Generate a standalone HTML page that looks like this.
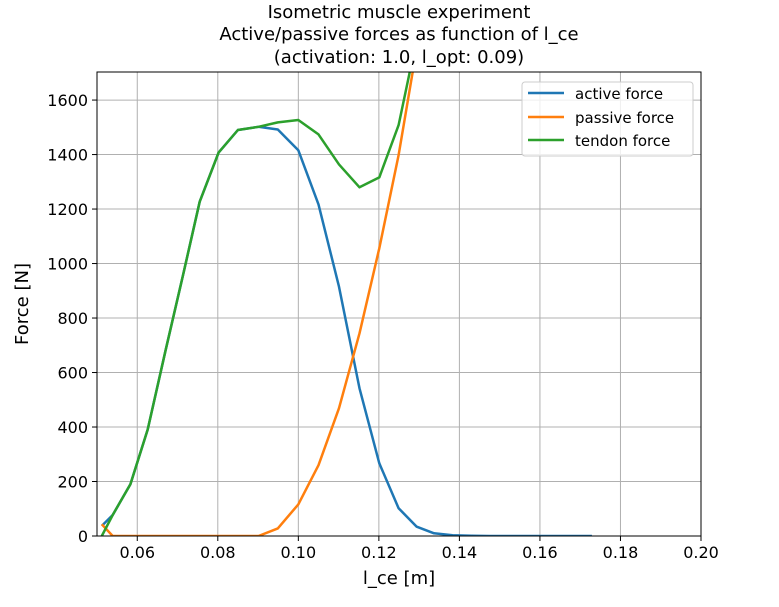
<!DOCTYPE html>
<html><head><meta charset="utf-8"><style>
body{margin:0;background:#fff;}
svg text{font-family:"DejaVu Sans","Liberation Sans",sans-serif;fill:#000;}
</style></head><body>
<svg id="chart" width="779" height="602" xmlns="http://www.w3.org/2000/svg">
<defs><clipPath id="plotclip"><rect x="97" y="72" width="604" height="464"/></clipPath></defs>
<g>
<text x="399" y="18" text-anchor="middle" font-size="18">Isometric muscle experiment</text>
<text x="399" y="40" text-anchor="middle" font-size="18">Active/passive forces as function of l_ce</text>
<text x="399" y="63" text-anchor="middle" font-size="18">(activation: 1.0, l_opt: 0.09)</text>
</g>
<g id="grid"></g>
<g id="series" clip-path="url(#plotclip)"></g>
<rect x="97" y="72" width="604" height="464" fill="none" stroke="#000" stroke-width="1"/>
<g id="axes"></g>
<text x="399" y="584" text-anchor="middle" font-size="18">l_ce [m]</text>
<text x="0" y="0" transform="translate(28,304) rotate(-90)" text-anchor="middle" font-size="18">Force [N]</text>
<g>
<rect x="522" y="82" width="171" height="74" rx="3" fill="#fff" fill-opacity="0.8" stroke="#ccc"/>
<g><line x1="528" y1="93" x2="564" y2="93" stroke="#1f77b4" stroke-width="2.5"/><text x="575" y="99" font-size="15">active force</text></g>
<g><line x1="528" y1="117" x2="564" y2="117" stroke="#ff7f0e" stroke-width="2.5"/><text x="575" y="123" font-size="15">passive force</text></g>
<g><line x1="528" y1="140" x2="564" y2="140" stroke="#2ca02c" stroke-width="2.5"/><text x="575" y="146" font-size="15">tendon force</text></g>
</g>
</svg>
<script>
const lce = [0.0512,0.0539,0.0583,0.0626,0.0670,0.0714,0.0755,0.0802,0.0850,0.0901,0.0949,0.1000,0.1050,0.1101,0.1152,0.1201,0.1249,0.1294,0.1337,0.1383,0.1430,0.1475,0.1520,0.1565,0.1610,0.1655,0.1700,0.1729];
const activeForce = [37,77,190,391,680,960,1227,1407,1490,1502,1492,1416,1217,915,542,267,102,34,10,3,1,0,0,0,0,0,0,0];
const lcePT = [0.0512,0.0539,0.0583,0.0626,0.0670,0.0714,0.0755,0.0802,0.0850,0.0901,0.0949,0.1000,0.1050,0.1101,0.1152,0.1201,0.1249,0.1294,0.1337];
const passiveForce = [43,0,0,0,0,0,0,0,0,0,28,116,260,469,744,1056,1398,1790,2300];
const tendonForce = [0,77,190,391,680,960,1227,1407,1490,1502,1518,1527,1474,1364,1280,1316,1508,1824,2310];
const xTicks = [0.06,0.08,0.10,0.12,0.14,0.16,0.18,0.20];
const xTickLabels = ["0.06","0.08","0.10","0.12","0.14","0.16","0.18","0.20"];
const yTicks = [0,200,400,600,800,1000,1200,1400,1600];
const yTickLabels = ["0","200","400","600","800","1000","1200","1400","1600"];

const X0=97,X1=701,Y0=536,Y1=72, xmin=0.05,xmax=0.20,ymin=0,ymax=1703;
const sx=v=>X0+(v-xmin)/(xmax-xmin)*(X1-X0);
const sy=v=>Y0-(v-ymin)/(ymax-ymin)*(Y0-Y1);
const NS="http://www.w3.org/2000/svg";
const grid=document.getElementById('grid'), axes=document.getElementById('axes'), series=document.getElementById('series');
function mk(tag,attrs,parent){const e=document.createElementNS(NS,tag);for(const k in attrs)e.setAttribute(k,attrs[k]);parent.appendChild(e);return e;}
xTicks.forEach((t,i)=>{
  const x=sx(t);
  const g=mk('line',{x1:x,y1:Y1,x2:x,y2:Y0,stroke:'#b0b0b0','stroke-width':1},grid);
  
  
  const tk=mk('line',{x1:x,y1:Y0,x2:x,y2:Y0+5,stroke:'#000'},axes);
  
  
  const tx=mk('text',{x:x,y:Y0+22,'text-anchor':'middle','font-size':16},axes);
  tx.textContent=xTickLabels[i];
  
  
});
yTicks.forEach((t,i)=>{
  const y=sy(t);
  const g=mk('line',{x1:X0,y1:y,x2:X1,y2:y,stroke:'#b0b0b0','stroke-width':1},grid);
  
  
  const tk=mk('line',{x1:X0-5,y1:y,x2:X0,y2:y,stroke:'#000'},axes);
  
  
  const tx=mk('text',{x:X0-9,y:y+6,'text-anchor':'end','font-size':16},axes);
  tx.textContent=yTickLabels[i];
  
  
});
function line(xs,ys,color,name){
  const d=xs.map((v,i)=>(i?'L':'M')+sx(v).toFixed(1)+','+sy(ys[i]).toFixed(1)).join(' ');
  const p=mk('path',{d:d,fill:'none',stroke:color,'stroke-width':2.5,'stroke-linejoin':'round'},series);
  
  
}
line(lce,activeForce,'#1f77b4','active-force-line');
line(lcePT,passiveForce,'#ff7f0e','passive-force-line');
line(lcePT,tendonForce,'#2ca02c','tendon-force-line');
</script>
</body></html>
